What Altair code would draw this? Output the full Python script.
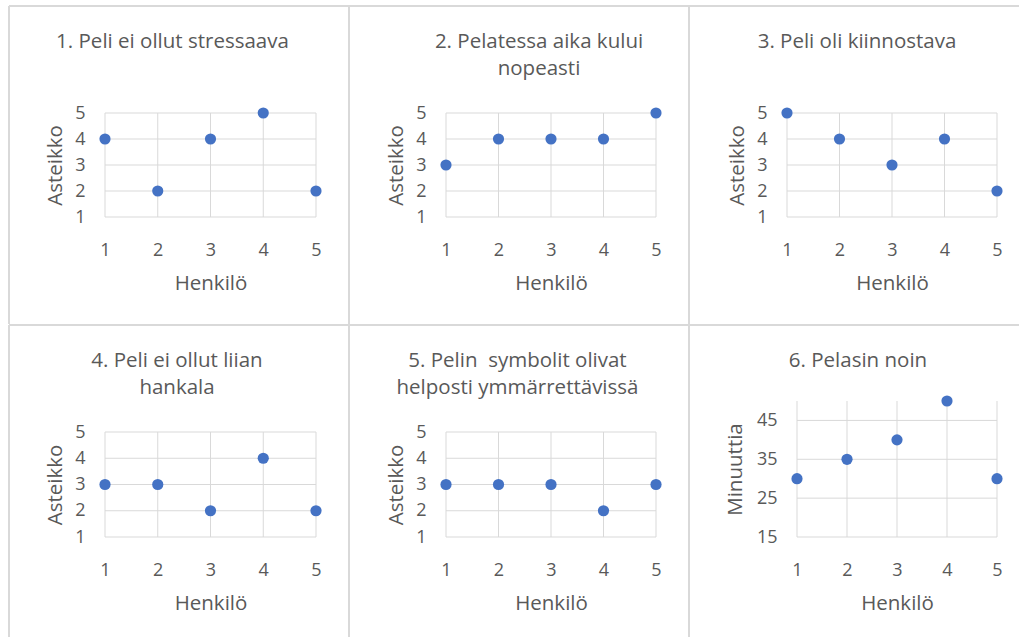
import altair as alt
import pandas as pd

# Survey answers per respondent (Henkilö 1-5)
persons = [1, 2, 3, 4, 5]
q1_stress = [4, 2, 4, 5, 2]
q2_time = [3, 4, 4, 4, 5]
q3_interest = [5, 4, 3, 4, 2]
q4_difficulty = [3, 3, 2, 4, 2]
q5_symbols = [3, 3, 3, 2, 3]
minutes_played = [30, 35, 40, 50, 30]

titles = [
    ["1. Peli ei ollut stressaava"],
    ["2. Pelatessa aika kului", "nopeasti"],
    ["3. Peli oli kiinnostava"],
    ["4. Peli ei ollut liian", "hankala"],
    # no-break space keeps the double gap after "Pelin" visible
    ["5. Pelin\u00a0 symbolit olivat", "helposti ymmärrettävissä"],
    ["6. Pelasin noin"],
]
x_title = "Henkilö"
scale_title = "Asteikko"
minutes_title = "Minuuttia"

scale_domain = [1, 5]
scale_ticks = [1, 2, 3, 4, 5]
minutes_domain = [15, 50]
minutes_ticks = [15, 25, 35, 45]

FONT = "Open Sans"
TEXT = "#595959"
GRID = "#d9d9d9"
DOT = "#4472C4"
TITLE_LINE = 27


def panel(values, title, y_title, y_domain, y_ticks, cell_w, cell_h,
          x_range, y_range, title_dx, y_title_pad):
    xs = alt.Scale(domain=[persons[0], persons[-1]], range=x_range, nice=False, zero=False)
    ys = alt.Scale(domain=y_domain, range=y_range, nice=False, zero=False)
    x_axis = alt.Axis(
        values=persons, format="d", grid=False, domain=False, ticks=False, tickSize=0,
        labelPadding=24, labelFlush=False, labelFont=FONT, labelFontSize=18,
        labelColor=TEXT, offset=y_range[0] - cell_h, minExtent=40, maxExtent=40,
        titleFont=FONT, titleFontSize=20.5, titleFontWeight="normal",
        titleColor=TEXT, titlePadding=16,
    )
    y_axis = alt.Axis(
        values=y_ticks, format="d", grid=False, domain=False, ticks=False, tickSize=0,
        labelPadding=20, labelFlush=False, labelFont=FONT, labelFontSize=18,
        labelColor=TEXT, offset=-x_range[0], minExtent=30, maxExtent=30,
        titleFont=FONT, titleFontSize=20.5, titleFontWeight="normal",
        titleColor=TEXT, titlePadding=y_title_pad,
    )

    points = pd.DataFrame({"henkilo": persons, "arvo": values})
    vgrid = pd.DataFrame({"gx": persons, "lo": y_domain[0], "hi": y_domain[1]})
    hgrid = pd.DataFrame({"gy": y_ticks, "lo": persons[0], "hi": persons[-1]})
    one = pd.DataFrame({"k": [0]})

    v_lines = alt.Chart(vgrid).mark_rule(color=GRID, strokeWidth=1).encode(
        x=alt.X("gx:Q", scale=xs, axis=x_axis, title=x_title),
        y=alt.Y("lo:Q", scale=ys, axis=y_axis, title=y_title),
        y2="hi:Q",
    )
    h_lines = alt.Chart(hgrid).mark_rule(color=GRID, strokeWidth=1).encode(
        x=alt.X("lo:Q", scale=xs, axis=x_axis, title=x_title),
        x2="hi:Q",
        y=alt.Y("gy:Q", scale=ys, axis=y_axis, title=y_title),
    )
    dots = alt.Chart(points).mark_circle(size=125, color=DOT, opacity=1).encode(
        x=alt.X("henkilo:Q", scale=xs, axis=x_axis, title=x_title),
        y=alt.Y("arvo:Q", scale=ys, axis=y_axis, title=y_title),
    )
    # cell frame: left and top edges only
    left_edge = alt.Chart(one).mark_rule(color=GRID, strokeWidth=2).encode(
        x=alt.value(1), y=alt.value(1), y2=alt.value(cell_h)
    )
    top_edge = alt.Chart(one).mark_rule(color=GRID, strokeWidth=2).encode(
        x=alt.value(1), x2=alt.value(cell_w + 1), y=alt.value(1)
    )

    # multi-line titles are stacked upwards from the anchor, so push them down
    title_offset = -47 - TITLE_LINE * (len(title) - 1)

    return alt.layer(left_edge, top_edge, v_lines, h_lines, dots).properties(
        width=cell_w,
        height=cell_h,
        title=alt.TitleParams(
            text=title, anchor="middle", frame="group", baseline="top",
            offset=title_offset, dx=title_dx, font=FONT, fontSize=20.5,
            fontWeight="normal", color=TEXT, lineHeight=TITLE_LINE,
        ),
    )


row1_h, row2_h = 319, 313
charts = [
    panel(q1_stress, titles[0], scale_title, scale_domain, scale_ticks,
          340, row1_h, [97, 308], [212, 108], -5.5, 10),
    panel(q2_time, titles[1], scale_title, scale_domain, scale_ticks,
          340, row1_h, [98, 308], [212, 108], 21, 10),
    panel(q3_interest, titles[2], scale_title, scale_domain, scale_ticks,
          330, row1_h, [99, 309], [212, 108], 4, 10),
    panel(q4_difficulty, titles[3], scale_title, scale_domain, scale_ticks,
          340, row2_h, [97, 308], [213, 108], -1, 10),
    panel(q5_symbols, titles[4], scale_title, scale_domain, scale_ticks,
          340, row2_h, [98, 308], [213, 108], -0.5, 10),
    panel(minutes_played, titles[5], minutes_title, minutes_domain, minutes_ticks,
          330, row2_h, [109, 309], [213, 77], 5, 22),
]

chart = alt.concat(*charts, columns=3, spacing=0, bounds="flush").properties(
    padding={"left": 7, "top": 4, "right": 0, "bottom": 0},
    background="white",
).configure_view(stroke="transparent")

chart.save("out.html", embed_options={"renderer": "svg", "actions": False})
